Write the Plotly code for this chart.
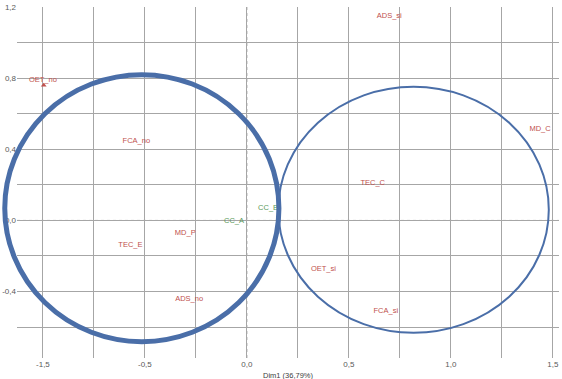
import plotly.graph_objects as go

# Category labels and their coordinates (Dim1, Dim2)
labels = ["ADS_si", "OET_no", "FCA_no", "MD_C", "TEC_C", "CC_B", "CC_A",
          "MD_P", "TEC_E", "OET_si", "ADS_no", "FCA_si"]
dim1 = [0.698, -1.000, -0.542, 1.437, 0.617, 0.104, -0.063,
        -0.302, -0.571, 0.375, -0.283, 0.681]
dim2 = [1.149, 0.789, 0.446, 0.514, 0.210, 0.069, -0.002,
        -0.071, -0.139, -0.274, -0.443, -0.508]
groups = ["var", "var", "var", "var", "var", "sup", "sup",
          "var", "var", "var", "var", "var"]

# Visible point marker
marker_names = ["OET_no"]
marker_x = [-0.996]
marker_y = [0.761]

# Cluster ellipses: centre and radii in data units
ell_cx = [-0.515, 0.817]
ell_cy = [0.069, 0.060]
ell_rx = [0.672, 0.663]
ell_ry = [0.751, 0.692]
ell_width = [5, 2]

# Tick labels
x_tickvals = [-1.0, -0.5, 0.0, 0.5, 1.0, 1.5]
x_ticktext = ["-1,5", "-0,5", "0,0", "0,5", "1,0", "1,5"]
y_tickvals = [1.2, 0.8, 0.4, 0.0, -0.4]
y_ticktext = ["1,2", "0,8", "0,4", "0,0", "-0,4"]

X_RANGE = [-1.127, 1.53]
Y_RANGE = [-0.774, 1.2005]

RED = "#c0504d"
GREEN = "#5b9a5b"
BLUE = "#4a6ea8"
GRID = "#a6a6a6"
FONT = "Liberation Sans Narrow, Liberation Sans, Arial, sans-serif"


def to_paper_x(v):
    return (v - X_RANGE[0]) / (X_RANGE[1] - X_RANGE[0])


def to_paper_y(v):
    return (v - Y_RANGE[0]) / (Y_RANGE[1] - Y_RANGE[0])


fig = go.Figure()
fig.add_trace(go.Scatter(
    x=marker_x, y=marker_y, mode="markers",
    marker=dict(symbol="triangle-up", size=5, color=RED),
    hoverinfo="skip", showlegend=False))
fig.add_trace(go.Scatter(
    x=dim1, y=dim2, mode="text", text=labels,
    textposition="middle center",
    textfont=dict(family=FONT, size=7.5,
                  color=[GREEN if g == "sup" else RED for g in groups]),
    showlegend=False))

shapes = []
# dotted zero lines (cover the solid gridline first)
for d in ("x", "y"):
    if d == "x":
        base = dict(type="line", xref="x", yref="paper", x0=0, x1=0, y0=0, y1=1)
    else:
        base = dict(type="line", xref="paper", yref="y", x0=0, x1=1, y0=0, y1=0)
    shapes.append(dict(base, line=dict(color="white", width=2), layer="between"))
    shapes.append(dict(base, line=dict(color=GRID, width=1, dash="dot"), layer="between"))

# ellipses in paper coordinates so they may extend past the plot area
for cx, cy, rx, ry, w in zip(ell_cx, ell_cy, ell_rx, ell_ry, ell_width):
    shapes.append(dict(type="circle", xref="paper", yref="paper",
                       x0=to_paper_x(cx - rx), x1=to_paper_x(cx + rx),
                       y0=to_paper_y(cy - ry), y1=to_paper_y(cy + ry),
                       line=dict(color=BLUE, width=w), layer="above"))

fig.update_layout(
    width=562, height=379,
    margin=dict(l=17, r=3, t=7, b=21, pad=0),
    plot_bgcolor="white", paper_bgcolor="white",
    font=dict(family=FONT, size=8, color="#595959"),
    shapes=shapes,
    annotations=[dict(text="Dim1 (36,79%)", x=0.5, y=0, xref="paper", yref="paper",
                      xanchor="center", yanchor="top", yshift=-11, showarrow=False,
                      font=dict(family=FONT, size=7.5, color="#404040"))],
)
fig.update_xaxes(
    range=X_RANGE, tickvals=x_tickvals, ticktext=x_ticktext,
    showgrid=True, gridcolor=GRID, gridwidth=1, zeroline=False,
    ticks="", showline=False, automargin=False,
    minor=dict(dtick=0.25, tick0=0, showgrid=True, gridcolor=GRID, gridwidth=1),
    tickfont=dict(family=FONT, size=8, color="#595959"))
fig.update_yaxes(
    range=Y_RANGE, tickvals=y_tickvals, ticktext=y_ticktext,
    showgrid=True, gridcolor=GRID, gridwidth=1, zeroline=False,
    ticks="", showline=False, automargin=False,
    minor=dict(dtick=0.2, tick0=0, showgrid=True, gridcolor=GRID, gridwidth=1),
    tickfont=dict(family=FONT, size=8, color="#595959"))

fig.write_html("out.html", config={"displayModeBar": False},
               post_script="document.body.style.margin='0';document.body.style.overflow='hidden';")
